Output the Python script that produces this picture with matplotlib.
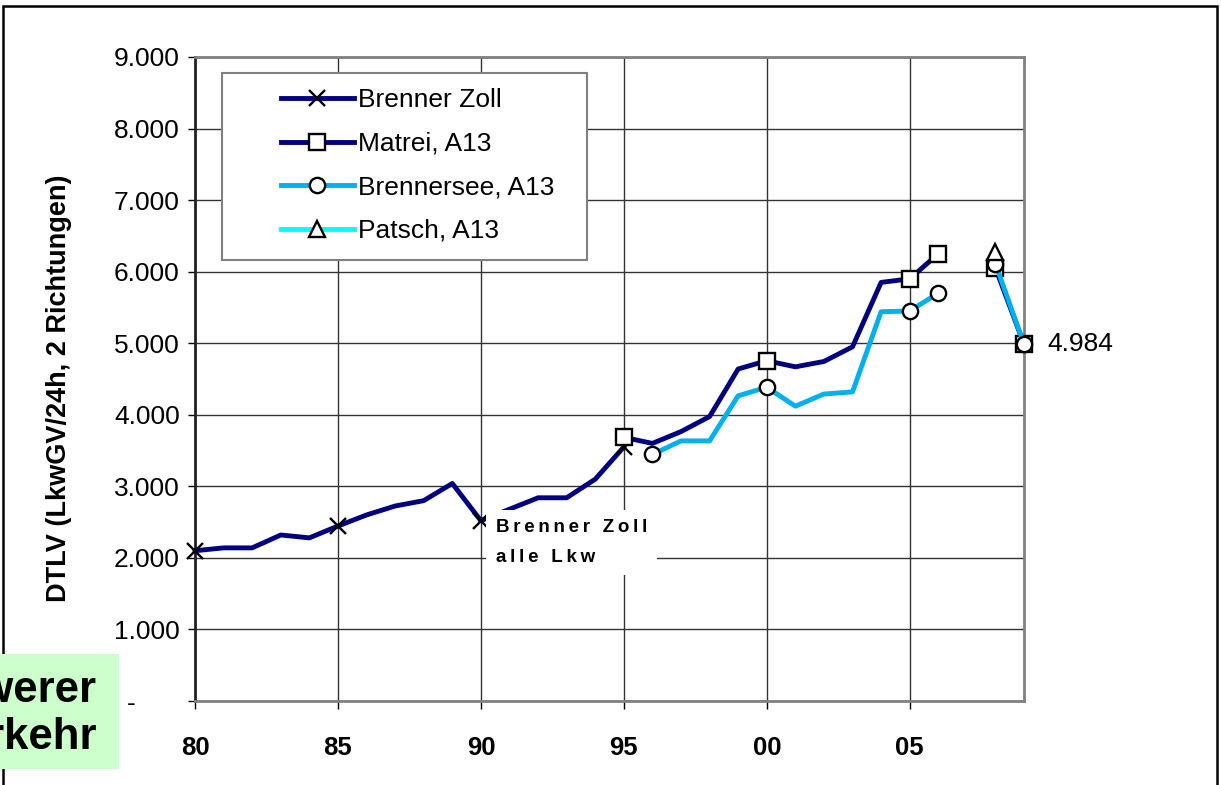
import numpy as np
import matplotlib
matplotlib.use("Agg")
import matplotlib.pyplot as plt
from matplotlib.patches import Rectangle
from matplotlib.ticker import FuncFormatter, MultipleLocator

plt.rcParams['font.family'] = ['Liberation Sans', 'DejaVu Sans']

# DTLV Lkw, Brennerkorridor
zoll_years = list(range(1980, 1996))
zoll = [2100, 2140, 2140, 2320, 2280, 2445, 2600, 2725, 2800, 3040,
        2520, 2680, 2840, 2840, 3100, 3550]
zoll_marks = [1980, 1985, 1990, 1995]

matrei_years = list(range(1995, 2010))
matrei = [3685, 3600, 3765, 3975, 4640, 4755, 4670, 4745, 4950, 5850,
          5900, 6250, np.nan, 6050, 4984]
matrei_marks = [1995, 2000, 2005, 2006, 2008, 2009]

see_years = list(range(1996, 2010))
see = [3445, 3635, 3635, 4265, 4385, 4120, 4290, 4320, 5440, 5450,
       5700, np.nan, 6110, 4984]
see_marks = [1996, 2000, 2005, 2006, 2008, 2009]

patsch_years = [2008]
patsch = [6280]
patsch_marks = [2008]

last_value = 4984

NAVY = '#000080'
LIGHT = '#00B0F0'
CYAN = '#00FFFF'

fig = plt.figure(figsize=(12.21, 7.85), dpi=100)
ax = fig.add_axes([0.1597, 0.107, 0.679, 0.8204])


def draw(xs, ys, marks, color, marker, ms, label):
    idx = [xs.index(m) for m in marks]
    ax.plot(xs, ys, color=color, lw=3.5, marker=marker, markevery=idx,
            ms=ms, mfc='white', mec='black', mew=1.7, label=label,
            clip_on=False, zorder=3)


draw(zoll_years, zoll, zoll_marks, NAVY, 'x', 11, 'Brenner Zoll')
draw(matrei_years, matrei, matrei_marks, NAVY, 's', 11, 'Matrei, A13')
draw(see_years, see, see_marks, LIGHT, 'o', 11, 'Brennersee, A13')
draw(patsch_years, patsch, patsch_marks, CYAN, '^', 11, 'Patsch, A13')

ax.set_xlim(1980, 2009)
ax.set_ylim(0, 9000)
ax.xaxis.set_major_locator(MultipleLocator(5))
ax.yaxis.set_major_locator(MultipleLocator(1000))
ax.xaxis.set_major_formatter(FuncFormatter(lambda v, p: '%02d' % (int(round(v)) % 100)))


def thousands(v, p):
    if abs(v) < 1:
        return ''
    return '{:,.0f}'.format(v).replace(',', '.')


ax.yaxis.set_major_formatter(FuncFormatter(thousands))
ax.grid(True, color='#333333', lw=1.0)
ax.set_axisbelow(True)

for side in ['top', 'right', 'bottom']:
    ax.spines[side].set_color('#808080')
    ax.spines[side].set_linewidth(2)
ax.spines['left'].set_color('#222222')
ax.spines['left'].set_linewidth(2)

ax.tick_params(axis='y', direction='out', length=5, width=1, pad=6,
               labelsize=19)
ax.tick_params(axis='x', direction='out', length=6, width=1, pad=19,
               labelsize=18.5)
for t in ax.get_xticklabels():
    t.set_fontweight('bold')

# Null als Strich
ax.annotate('-', xy=(1980, 0), xytext=(-46, -2), textcoords='offset points',
            ha='center', va='center', fontsize=19, annotation_clip=False)

ax.set_ylabel('DTLV (LkwGV/24h, 2 Richtungen)', fontsize=19.5,
              fontweight='bold')
ax.yaxis.set_label_coords(-0.148, 0.486)


def spaced(s):
    return '\n'.join('\u2009'.join(line) for line in s.split('\n'))


# Beschriftungen
ax.annotate(spaced('Brenner Zoll\nalle Lkw'),
            xy=(1990, zoll[zoll_years.index(1990)]),
            xytext=(11, 1), textcoords='offset points', ha='left', va='top',
            fontsize=13.5, fontweight='bold', linespacing=1.95,
            bbox=dict(facecolor='white', edgecolor='none', pad=7), zorder=4)
ax.annotate('{:,}'.format(last_value).replace(',', '.'),
            xy=(2009, last_value), xytext=(17, 0),
            textcoords='offset points', ha='left', va='center',
            fontsize=19, annotation_clip=False)

# Legende
ax.add_patch(Rectangle((0.0326, 0.685), 0.4405, 0.29, transform=ax.transAxes,
                       facecolor='white', edgecolor='#808080', lw=1.5,
                       zorder=5))
leg = ax.legend(loc='upper left', bbox_to_anchor=(0.088, 0.972),
                frameon=False, fontsize=19, handlelength=2.75,
                handletextpad=0.15, labelspacing=0.74, borderpad=0,
                numpoints=1)
leg.set_zorder(6)

# Rahmen und Kasten links unten
fig.patches.append(Rectangle((3 / 1221, -0.1), 1214 / 1221, 1.1 - 6 / 785,
                             transform=fig.transFigure, fill=False,
                             edgecolor='black', lw=1.8))
fig.patches.append(Rectangle((0, 16 / 785), 119 / 1221, 115 / 785,
                             transform=fig.transFigure, facecolor='#CCFFCC',
                             edgecolor='none'))
fig.text(97 / 1221, 71 / 785, 'Schwerer\nVerkehr', ha='right', va='center',
         fontsize=31.5, fontweight='bold', linespacing=1.2)

fig.savefig('out.png', dpi=100, facecolor='white')
